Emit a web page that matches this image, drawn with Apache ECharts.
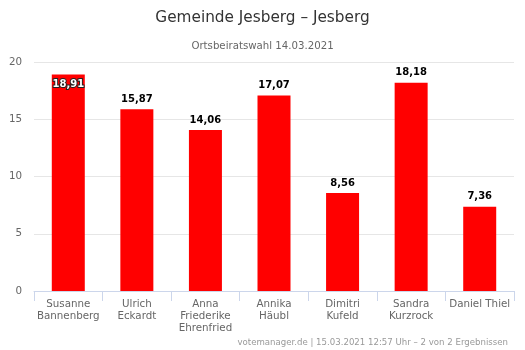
<!DOCTYPE html>
<html><head><meta charset="utf-8">
<script src="https://cdn.jsdelivr.net/npm/echarts@6/dist/echarts.min.js"></script>
<style>html,body{margin:0;padding:0;background:#fff}#c{width:525px;height:350px}</style>
</head><body><div id="c"></div>
<script>
var categories = ["Susanne\nBannenberg", "Ulrich\nEckardt", "Anna\nFriederike\nEhrenfried", "Annika\nHäubl", "Dimitri\nKufeld", "Sandra\nKurzrock", "Daniel Thiel"];
var values = [18.91, 15.87, 14.06, 17.07, 8.56, 18.18, 7.36];
var yTicks = [0, 5, 10, 15, 20];
var titleText = "Gemeinde Jesberg – Jesberg";
var subtitleText = "Ortsbeiratswahl 14.03.2021";
var creditText = "votemanager.de | 15.03.2021 12:57 Uhr – 2 von 2 Ergebnissen";

var font = "DejaVu Sans";
var chart = echarts.init(document.getElementById('c'), null, {renderer: 'canvas'});
var fmt = function (v) { return v.toFixed(2).replace('.', ','); };
var data = values.map(function (v, i) {
  var d = {value: v};
  if (i === 0) {
    d.label = {position: 'insideTop', distance: 5, color: '#fff', textBorderColor: '#222', textBorderWidth: 2};
  }
  return d;
});
chart.setOption({
  animation: false,
  textStyle: {fontFamily: font},
  title: [
    {text: titleText, left: 'center', top: 6, textStyle: {fontFamily: font, fontSize: 15.3, fontWeight: 'normal', color: '#333'}},
    {text: subtitleText, left: 'center', top: 36, textStyle: {fontFamily: font, fontSize: 10.2, fontWeight: 'normal', color: '#666'}},
    {text: creditText, right: 12, top: 333, textStyle: {fontFamily: font, fontSize: 8.6, fontWeight: 'normal', color: '#999'}}
  ],
  grid: {left: 34, right: 11, top: 62, bottom: 59, containLabel: false},
  xAxis: {
    type: 'category', data: categories,
    axisLine: {lineStyle: {color: '#ccd6eb'}},
    axisTick: {show: true, length: 10, lineStyle: {color: '#ccd6eb'}},
    axisLabel: {color: '#666', fontSize: 10.3, fontFamily: font, lineHeight: 12, margin: 7, interval: 0}
  },
  yAxis: {
    type: 'value', min: yTicks[0], max: yTicks[yTicks.length - 1], interval: 5,
    axisLine: {show: false}, axisTick: {show: false},
    axisLabel: {color: '#666', fontSize: 10.3, fontFamily: font, margin: 12},
    splitLine: {lineStyle: {color: '#e6e6e6'}}
  },
  series: [{
    type: 'bar', data: data, barWidth: 33,
    itemStyle: {color: '#ff0000'},
    label: {show: true, position: 'top', distance: 5, formatter: function (p) { return fmt(p.value); },
      fontFamily: font, fontSize: 10, fontWeight: 'bold', color: '#000', textBorderColor: '#fff', textBorderWidth: 1}
  }]
});
</script></body></html>
